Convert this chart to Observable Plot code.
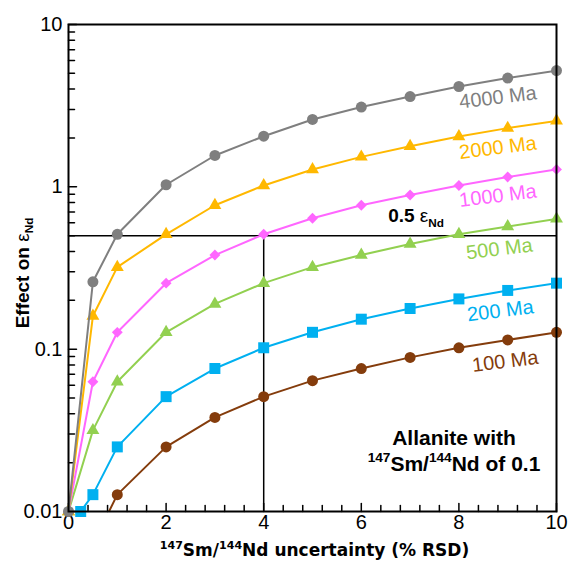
<!DOCTYPE html>
<html><head><meta charset="utf-8">
<script src="https://cdn.jsdelivr.net/npm/d3@7"></script>
<script src="https://cdn.jsdelivr.net/npm/@observablehq/plot@0.6"></script>
<style>body{margin:0;background:#fff} svg{display:block}</style>
</head><body><div id="chart"></div>
<script>
// ---- data ----
const uncertainty = [0, 0.5, 1, 2, 3, 4, 5, 6, 7, 8, 9, 10];
const effect4000 = [0.01, 0.26, 0.51, 1.03, 1.56, 2.05, 2.6, 3.1, 3.6, 4.15, 4.68, 5.2];
const effect2000 = [0.01, 0.16, 0.32, 0.51, 0.77, 1.02, 1.28, 1.53, 1.78, 2.04, 2.3, 2.55];
const effect1000 = [0.01, 0.063, 0.127, 0.255, 0.38, 0.51, 0.64, 0.77, 0.89, 1.02, 1.15, 1.28];
const effect500  = [0.01, 0.0316, 0.063, 0.127, 0.19, 0.255, 0.32, 0.38, 0.445, 0.51, 0.57, 0.635];
const uncertainty200 = [0.25, 0.5, 1, 2, 3, 4, 5, 6, 7, 8, 9, 10];
const effect200  = [0.01, 0.0127, 0.025, 0.051, 0.076, 0.102, 0.127, 0.153, 0.178, 0.204, 0.23, 0.255];
const uncertainty100 = [0.5, 1, 2, 3, 4, 5, 6, 7, 8, 9, 10];
const effect100  = [0.0063, 0.0127, 0.025, 0.038, 0.051, 0.064, 0.076, 0.089, 0.102, 0.114, 0.127];
const seriesNames = ["100 Ma", "200 Ma", "500 Ma", "1000 Ma", "2000 Ma", "4000 Ma"];
const xTickValues = [0, 2, 4, 6, 8, 10];
const xTickLabels = ["0", "2", "4", "6", "8", "10"];
const yTickValues = [0.01, 0.1, 1, 10];
const yTickLabels = ["0.01", "0.1", "1", "10"];
const thresholdEffect = 0.5;
const thresholdUncertainty = 4;

// ---- build tables ----
const table = (xs, ys) => xs.map((x, i) => ({x, y: ys[i]}));
const series = [
  {name: seriesNames[0], data: table(uncertainty100, effect100), color: "#843C0C", symbol: "circle", r: 5.5, lx: 8.95, ly: 0.084},
  {name: seriesNames[1], data: table(uncertainty200, effect200), color: "#00B0F0", symbol: "square", r: 6.2, lx: 8.85, ly: 0.172},
  {name: seriesNames[2], data: table(uncertainty, effect500), color: "#92D050", symbol: "triangle", r: 4.8, lx: 8.83, ly: 0.414},
  {name: seriesNames[3], data: table(uncertainty, effect1000), color: "#FF66FF", symbol: "diamond2", r: 4.9, lx: 8.8, ly: 0.88},
  {name: seriesNames[4], data: table(uncertainty, effect2000), color: "#FFB800", symbol: "triangle", r: 4.8, lx: 8.8, ly: 1.74},
  {name: seriesNames[5], data: table(uncertainty, effect4000), color: "#7F7F7F", symbol: "circle", r: 5.5, lx: 8.8, ly: 3.55}
];

const xMinor = d3.range(0.4, 10, 0.4).filter(v => Math.abs(v / 2 - Math.round(v / 2)) > 1e-6);
const yMinor = [0.01, 0.1, 1].flatMap(d => [2, 3, 4, 5, 6, 7, 8, 9].map(k => k * d));

const tickShapeUp = {draw(ctx, l) { ctx.moveTo(0, 0); ctx.lineTo(0, -l); }};
const tickShapeRight = {draw(ctx, l) { ctx.moveTo(0, 0); ctx.lineTo(l, 0); }};

const font = "Liberation Sans, Arial, sans-serif";

const marks = [
  // reference lines
  Plot.ruleY([thresholdEffect], {x1: 0, x2: 10, stroke: "black", strokeWidth: 1.5}),
  Plot.ruleX([thresholdUncertainty], {y1: 0.01, y2: thresholdEffect, stroke: "black", strokeWidth: 1.5}),
  // ticks (inward)
  Plot.vector(xTickValues, {x: d => d, frameAnchor: "bottom", length: 8, anchor: "start", shape: tickShapeUp, stroke: "black", strokeWidth: 1.5}),
  Plot.vector(xMinor, {x: d => d, frameAnchor: "bottom", length: 6, anchor: "start", shape: tickShapeUp, stroke: "black", strokeWidth: 1.5}),
  Plot.vector(yTickValues, {y: d => d, frameAnchor: "left", length: 8, anchor: "start", shape: tickShapeRight, stroke: "black", strokeWidth: 1.5}),
  Plot.vector(yMinor, {y: d => d, frameAnchor: "left", length: 6, anchor: "start", shape: tickShapeRight, stroke: "black", strokeWidth: 1.5}),
  // tick labels
  Plot.text(xTickValues, {x: d => d, frameAnchor: "bottom", dy: 17, textAnchor: "middle", text: (d, i) => xTickLabels[i], fontSize: 20, fill: "black"}),
  Plot.text(yTickValues, {y: d => d, frameAnchor: "left", dx: -6, textAnchor: "end", text: (d, i) => yTickLabels[i], fontSize: 20, fill: "black"}),
  // series
  ...series.flatMap(s => [
    Plot.line(s.data, {x: "x", y: "y", stroke: s.color, strokeWidth: 2, clip: true}),
    Plot.dot(s.data.filter(d => d.y >= 0.01), {x: "x", y: "y", symbol: s.symbol, r: s.r, fill: s.color, stroke: "none"}),
  ]),
  // series labels
  ...series.map(s => Plot.text([s.name], {x: s.lx, y: s.ly, text: d => d, fill: s.color, fontSize: 20, rotate: -7})),
  // annotations
  Plot.text(["0.5 ~{ε}_{Nd}"], {x: 6.55, y: 0.66, text: d => d, textAnchor: "start", fontSize: 19, fontWeight: "bold", fill: "black"}),
  Plot.text(["Allanite with"], {x: 7.9, y: 0.0282, text: d => d, fontSize: 21, fontWeight: "bold", fill: "black"}),
  Plot.text(["^{147}Sm/^{144}Nd of 0.1"], {x: 7.9, y: 0.0196, text: d => d, fontSize: 21, fontWeight: "bold", fill: "black"}),
  // axis titles
  Plot.text(["^{147}Sm/^{144}Nd uncertainty (% RSD)"], {frameAnchor: "bottom", textAnchor: "middle", dy: 44, dx: 2, text: d => d, fontSize: 17, fontWeight: "bold", fontFamily: "DejaVu Sans", fill: "black"}),
  Plot.text(["Effect on ~{ε}_{Nd}"], {frameAnchor: "left", textAnchor: "middle", dx: -46, dy: 5, rotate: -90, text: d => d, fontSize: 19, fontWeight: "bold", fill: "black"}),
  Plot.frame({stroke: "black", strokeWidth: 2})
];

const svg = Plot.plot({
  width: 569, height: 563,
  marginLeft: 68, marginRight: 13, marginTop: 24, marginBottom: 52,
  style: {fontFamily: font, background: "white"},
  x: {domain: [0, 10], axis: null},
  y: {type: "log", domain: [0.01, 10], axis: null},
  marks
});
document.getElementById("chart").appendChild(svg);

// rich text: ^{sup}, _{sub}, ~{normal weight}
d3.select(svg).selectAll("text").each(function () {
  const s = this.textContent;
  if (!/[\^_~]\{/.test(s)) return;
  const fs = parseFloat(getComputedStyle(this).fontSize) || 18;
  this.textContent = "";
  const re = /([\^_~])\{([^}]*)\}|([^\^_~]+)/g;
  let m, shift = 0;
  while ((m = re.exec(s))) {
    const ts = document.createElementNS("http://www.w3.org/2000/svg", "tspan");
    let target = 0;
    if (m[1] === "^") { target = -0.4 * fs; ts.setAttribute("font-size", 0.65 * fs); ts.textContent = m[2]; }
    else if (m[1] === "_") { target = 0.25 * fs; ts.setAttribute("font-size", 0.62 * fs); ts.textContent = m[2]; }
    else if (m[1] === "~") { ts.setAttribute("font-weight", "normal"); ts.textContent = m[2]; }
    else { ts.textContent = m[3]; }
    if (target - shift !== 0) ts.setAttribute("dy", target - shift);
    shift = target;
    this.appendChild(ts);
  }
});
</script>
</body></html>
